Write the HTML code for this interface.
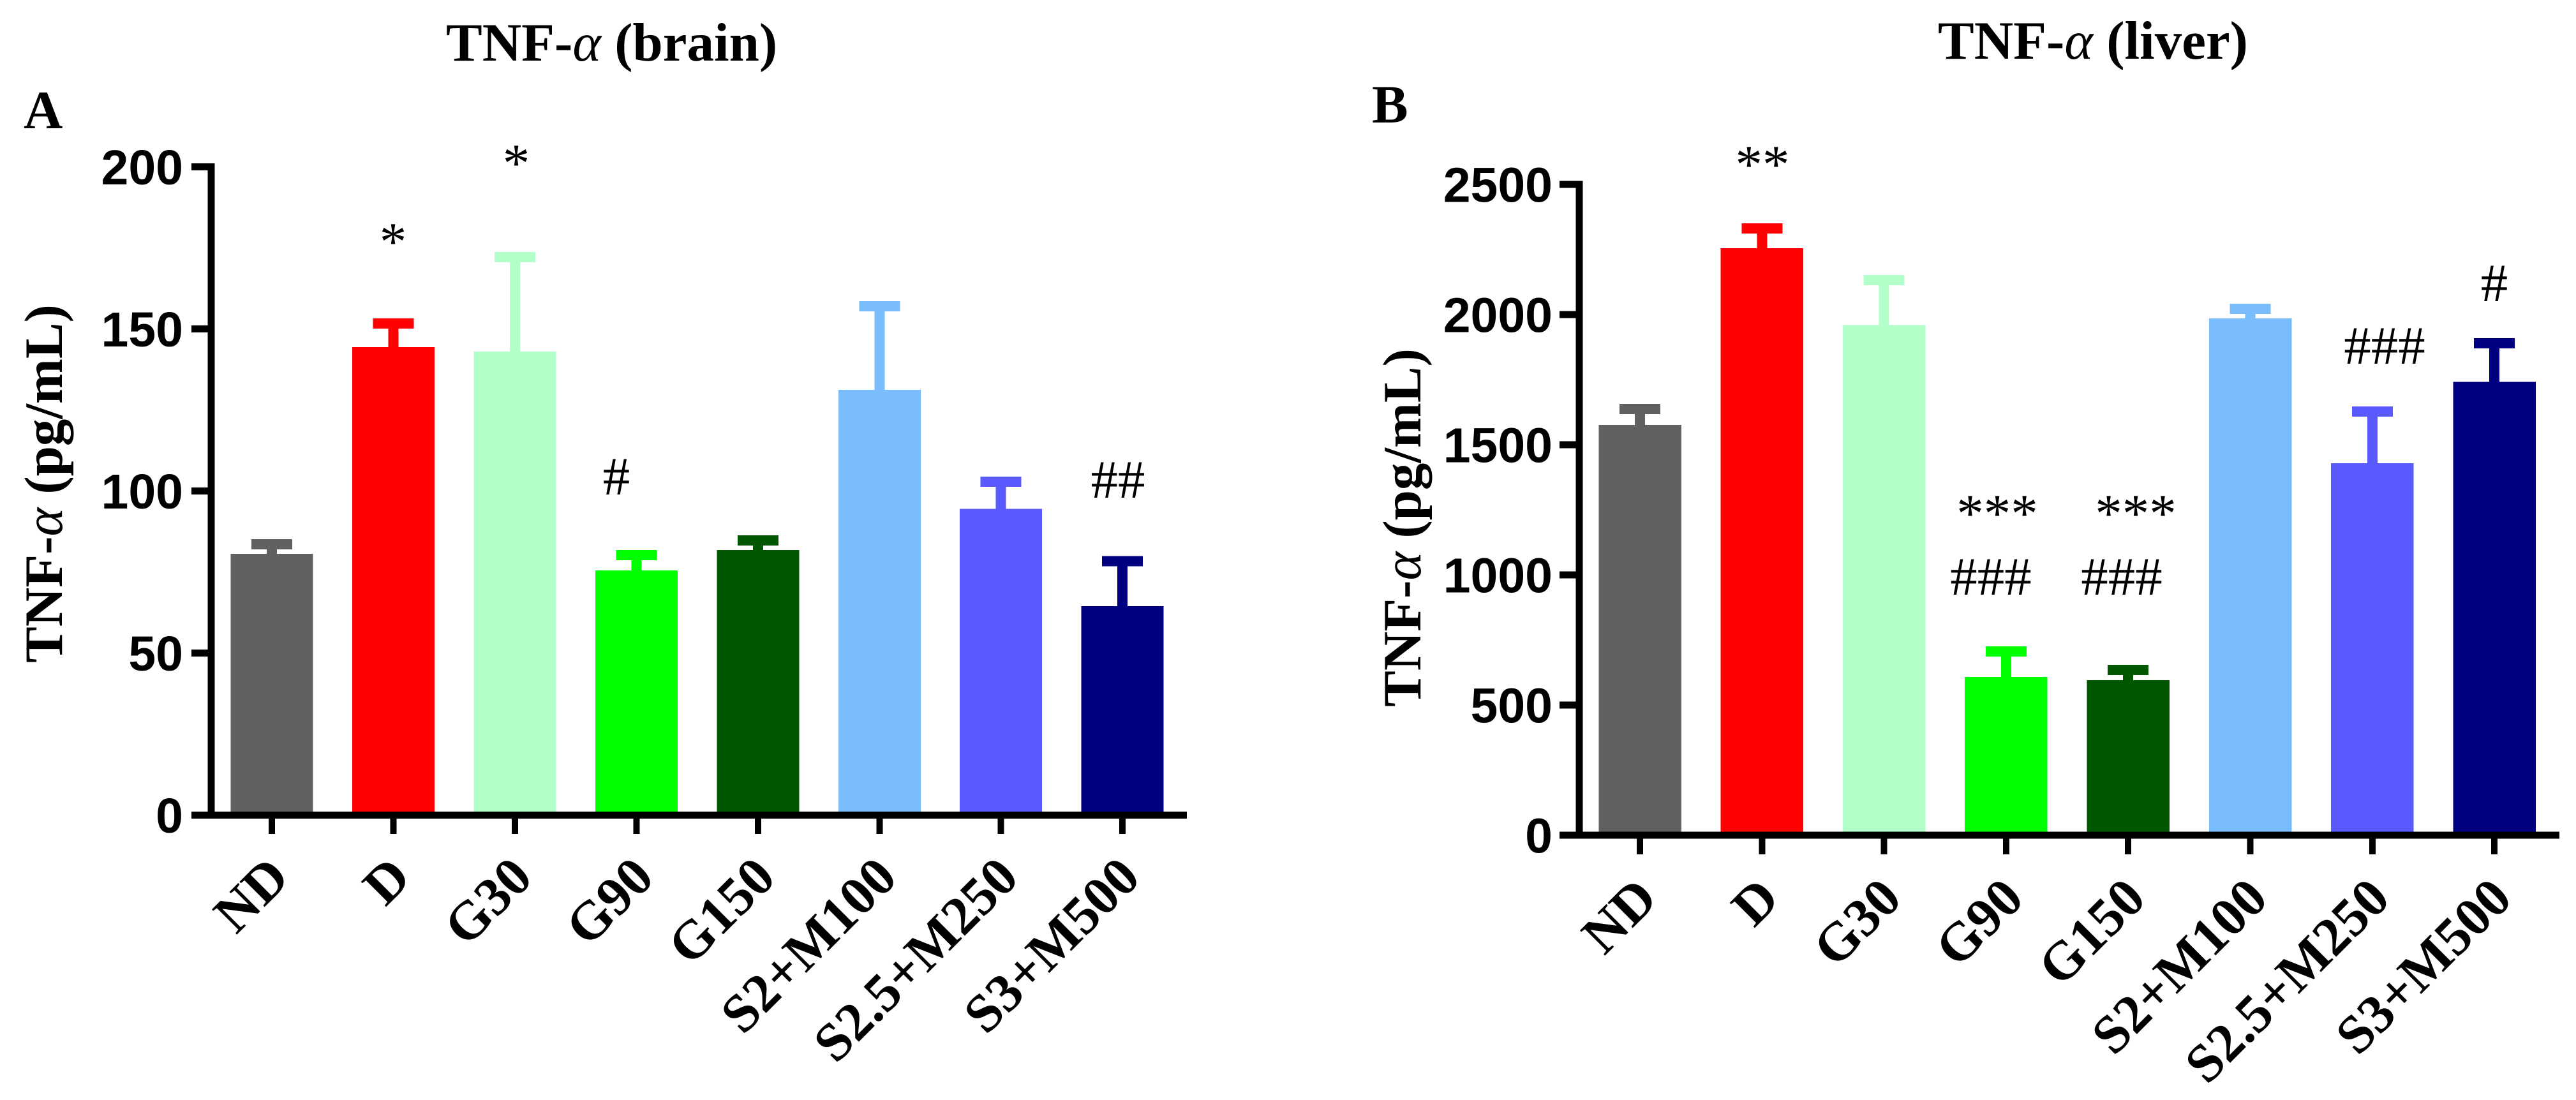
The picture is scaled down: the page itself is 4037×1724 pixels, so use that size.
<!DOCTYPE html>
<html lang="en">
<head>
<meta charset="utf-8">
<title>TNF-α brain and liver</title>
<style>
html,body{margin:0;padding:0;background:#fff;}
svg{display:block;}
text{fill:#000;}
.serif{font-family:"Liberation Serif",serif;}
.bold{font-family:"Liberation Serif",serif;font-weight:bold;}
.sans{font-family:"Liberation Sans",sans-serif;font-weight:bold;}
.note{font-family:"Liberation Serif",serif;font-size:85px;text-anchor:middle;}
.alpha{font-weight:normal;font-style:italic;}
</style>
</head>
<body>
<svg id="chart" xmlns="http://www.w3.org/2000/svg" width="4037" height="1724" viewBox="0 0 4037 1724">
  <rect x="0" y="0" width="4037" height="1724" fill="#ffffff"/>
  <g id="panelA"></g>
  <g id="panelB"></g>

  <text class="bold" x="699" y="95" font-size="85">TNF-<tspan class="alpha">α</tspan> (brain)</text>
  <text class="bold" x="37" y="201" font-size="85">A</text>
  <text class="bold" transform="translate(97,758) rotate(-90)" text-anchor="middle" font-size="85">TNF-<tspan class="alpha">α</tspan> (pg/mL)</text>

  <text class="bold" x="3037" y="92" font-size="85">TNF-<tspan class="alpha">α</tspan> (liver)</text>
  <text class="bold" x="2150" y="192" font-size="85">B</text>
  <text class="bold" transform="translate(2226,827) rotate(-90)" text-anchor="middle" font-size="85">TNF-<tspan class="alpha">α</tspan> (pg/mL)</text>

  <text class="note" x="616" y="407">*</text>
  <text class="note" x="809" y="284">*</text>
  <text class="note" x="966" y="775">#</text>
  <text class="note" x="1752" y="780">##</text>

  <text class="note" x="2762" y="286">**</text>
  <text class="note" x="3130" y="833">***</text>
  <text class="note" x="3347" y="833">***</text>
  <text class="note" x="3120" y="932">###</text>
  <text class="note" x="3325" y="932">###</text>
  <text class="note" x="3737" y="570">###</text>
  <text class="note" x="3909" y="472">#</text>
</svg>
<script>
const categories = ['ND', 'D', 'G30', 'G90', 'G150', 'S2+M100', 'S2.5+M250', 'S3+M500'];
const barColors = ['#616161', '#ff0000', '#b2ffc9', '#00ff00', '#005700', '#7abdfc', '#5a5aff', '#000080'];

const brainMeans = [80.6, 144.4, 143, 75.5, 81.8, 131.2, 94.5, 64.5];
const brainUpper = [85.2, 153.3, 173.7, 81.8, 86.3, 158.6, 104.4, 79.9];
const brainTicks = [0, 50, 100, 150, 200];

const liverMeans = [1576, 2255, 1960, 608, 596, 1985, 1429, 1742];
const liverUpper = [1657, 2350, 2152, 725, 654, 2042, 1647, 1909];
const liverTicks = [0, 500, 1000, 1500, 2000, 2500];

const SVG_NS = 'http://www.w3.org/2000/svg';

function makeEl(parent, tag, name, props) {
  const el = document.createElementNS(SVG_NS, tag);
  for (const key in props) el.setAttribute(key, props[key]);
  
  
  parent.appendChild(el);
  return el;
}

function slug(label) {
  return label.toLowerCase().replace(/[^a-z0-9]+/g, '-');
}

function drawPanel(cfg) {
  const g = document.getElementById(cfg.id);
  const y = v => cfg.y0 - v * cfg.yPerUnit;
  const x = i => cfg.x0 + i * cfg.xStep;
  const prefix = cfg.prefix;

  cfg.means.forEach((mean, i) => {
    const key = prefix + '-' + slug(categories[i]);
    const color = barColors[i];
    const cx = x(i);
    const top = y(cfg.upper[i]);
    makeEl(g, 'rect', key + '-error-stem', {
      x: cx - 8, y: top, width: 16, height: Math.max(0, y(mean) - top), fill: color, 'shape-rendering': 'crispEdges'
    });
    makeEl(g, 'rect', key + '-error-cap', {
      x: cx - 32, y: top, width: 64, height: 16, fill: color, 'shape-rendering': 'crispEdges'
    });
    makeEl(g, 'rect', key + '-bar', {
      x: cx - cfg.barW / 2, y: y(mean), width: cfg.barW, height: cfg.y0 - y(mean), fill: color, 'shape-rendering': 'crispEdges'
    });
  });

  const yMax = cfg.ticks[cfg.ticks.length - 1];
  makeEl(g, 'rect', prefix + '-y-axis-line', {
    x: cfg.axisX - 5.5, y: y(yMax) - 5.5, width: 11, height: cfg.y0 - y(yMax) + 11, fill: '#000', 'shape-rendering': 'crispEdges'
  });
  makeEl(g, 'rect', prefix + '-x-axis-line', {
    x: cfg.axisLeft, y: cfg.y0 - 5.5, width: cfg.axisRight - cfg.axisLeft, height: 11, fill: '#000', 'shape-rendering': 'crispEdges'
  });

  cfg.ticks.forEach(v => {
    makeEl(g, 'rect', prefix + '-y-tick-' + v, {
      x: cfg.axisLeft, y: y(v) - 5.5, width: cfg.axisX - cfg.axisLeft, height: 11, fill: '#000', 'shape-rendering': 'crispEdges'
    });
    const label = makeEl(g, 'text', prefix + '-y-label-' + v, {
      x: cfg.tickLabelX, y: y(v) + 27.5, 'text-anchor': 'end', 'font-size': 77, class: 'sans'
    });
    label.textContent = String(v);
  });

  categories.forEach((cat, i) => {
    const cx = x(i);
    makeEl(g, 'rect', prefix + '-x-tick-' + slug(cat), {
      x: cx - 5, y: cfg.y0, width: 10, height: cfg.tickBottom - cfg.y0, fill: '#000', 'shape-rendering': 'crispEdges'
    });
    const lx = cx + 31;
    const label = makeEl(g, 'text', prefix + '-x-label-' + slug(cat), {
      transform: 'translate(' + lx + ',' + cfg.labelY + ') rotate(-45)',
      'text-anchor': 'end', 'font-size': 85, class: 'bold'
    });
    label.textContent = cat;
  });
}

drawPanel({
  id: 'panelA', prefix: 'brain', means: brainMeans, upper: brainUpper, ticks: brainTicks,
  y0: 1277.6, yPerUnit: 5.08, x0: 426, xStep: 190.45, barW: 129,
  axisX: 331, axisLeft: 300, axisRight: 1860, tickLabelX: 287, tickBottom: 1307, labelY: 1379
});

drawPanel({
  id: 'panelB', prefix: 'liver', means: liverMeans, upper: liverUpper, ticks: liverTicks,
  y0: 1309, yPerUnit: 0.408, x0: 2570, xStep: 191.3, barW: 129.5,
  axisX: 2475, axisLeft: 2444, axisRight: 4011, tickLabelX: 2433, tickBottom: 1339, labelY: 1412
});
</script>
</body>
</html>
